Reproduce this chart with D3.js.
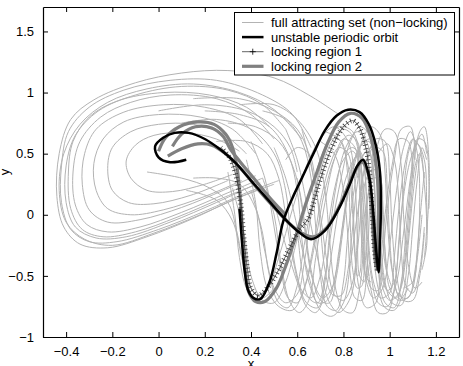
<!DOCTYPE html>
<html>
<head>
<meta charset="utf-8">
<script src="https://cdn.jsdelivr.net/npm/d3@7"></script>
<style>
body { margin: 0; background: #fff; }
svg { display: block; }
text { font-family: "Liberation Sans", Arial, sans-serif; }
</style>
</head>
<body>
<div class="container"></div>
<script>
// values, [x, y]
const leftLoop1 = [[0.78,0.82],[0.65,0.98],[0.5,1.12],[0.3,1.18],[0.1,1.16],[-0.1,1.08],[-0.28,0.94],[-0.38,0.78],[-0.43,0.5],[-0.44,0.15],[-0.41,-0.1],[-0.34,-0.24],[-0.22,-0.27],[-0.05,-0.18],[0.15,-0.03],[0.32,0.12],[0.45,0.22]];
const leftLoop2 = [[0.66,0.55],[0.58,0.82],[0.45,0.98],[0.25,1.1],[0.05,1.1],[-0.15,1.02],[-0.3,0.88],[-0.39,0.68],[-0.42,0.4],[-0.42,0.1],[-0.38,-0.12],[-0.3,-0.22],[-0.18,-0.22],[0.0,-0.12],[0.2,0.03],[0.38,0.18],[0.52,0.28]];
const leftLoop3 = [[0.55,0.7],[0.45,0.9],[0.3,1.02],[0.1,1.05],[-0.1,0.98],[-0.26,0.85],[-0.36,0.65],[-0.4,0.4],[-0.4,0.1],[-0.36,-0.1],[-0.27,-0.19],[-0.14,-0.18],[0.05,-0.06],[0.25,0.1],[0.42,0.25]];
const leftLoop4 = [[0.5,0.62],[0.4,0.82],[0.25,0.95],[0.05,0.98],[-0.12,0.92],[-0.25,0.8],[-0.34,0.6],[-0.37,0.35],[-0.36,0.08],[-0.31,-0.08],[-0.22,-0.14],[-0.08,-0.1],[0.1,0.02],[0.3,0.18],[0.45,0.3]];
const leftLoop5 = [[0.45,0.58],[0.35,0.78],[0.2,0.88],[0.02,0.9],[-0.15,0.84],[-0.27,0.7],[-0.32,0.5],[-0.33,0.25],[-0.3,0.04],[-0.22,-0.06],[-0.08,-0.04],[0.1,0.06],[0.28,0.2],[0.42,0.32]];
const leftLoop6 = [[0.42,0.5],[0.32,0.7],[0.18,0.8],[0.0,0.82],[-0.15,0.76],[-0.24,0.62],[-0.28,0.42],[-0.27,0.2],[-0.22,0.05],[-0.12,0.0],[0.02,0.04],[0.2,0.15],[0.36,0.28]];
const leftLoop7 = [[0.38,0.5],[0.28,0.66],[0.15,0.74],[0.0,0.74],[-0.12,0.68],[-0.2,0.55],[-0.22,0.38],[-0.2,0.2],[-0.13,0.1],[-0.02,0.09],[0.14,0.16],[0.3,0.28]];
const leftLoop8 = [[0.35,0.52],[0.25,0.62],[0.12,0.67],[-0.02,0.65],[-0.1,0.57],[-0.14,0.44],[-0.12,0.3],[-0.05,0.2],[0.06,0.19],[0.2,0.25],[0.32,0.33]];
const leftLoop9 = [[0.62,0.62],[0.5,0.86],[0.35,1.0],[0.15,1.07],[-0.05,1.03],[-0.22,0.92],[-0.34,0.74],[-0.41,0.5],[-0.43,0.2],[-0.4,-0.06],[-0.32,-0.2],[-0.2,-0.25],[-0.02,-0.15],[0.18,0.0],[0.36,0.15],[0.5,0.25]];
const leftLoop10 = [[0.48,0.72],[0.38,0.88],[0.22,0.98],[0.02,1.0],[-0.18,0.93],[-0.3,0.8],[-0.37,0.6],[-0.39,0.35],[-0.38,0.05],[-0.33,-0.12],[-0.24,-0.18],[-0.1,-0.14],[0.08,-0.02],[0.28,0.14],[0.44,0.26]];

const tangle1 = [[0.32,0.22],[0.37,-0.15],[0.4,-0.5],[0.45,-0.7],[0.5,-0.72],[0.55,-0.55],[0.6,-0.2],[0.66,0.2],[0.72,0.55],[0.78,0.72],[0.84,0.68],[0.88,0.35],[0.9,-0.1],[0.92,-0.5],[0.95,-0.72],[0.99,-0.75],[1.03,-0.55],[1.06,-0.15],[1.09,0.3],[1.12,0.62],[1.15,0.6],[1.17,0.25],[1.16,-0.15]];
const tangle2 = [[0.45,0.3],[0.5,0.0],[0.53,-0.4],[0.57,-0.72],[0.61,-0.8],[0.65,-0.7],[0.68,-0.35],[0.72,0.1],[0.76,0.45],[0.8,0.62],[0.85,0.55],[0.87,0.2],[0.88,-0.25],[0.9,-0.55],[0.93,-0.68],[0.97,-0.6],[1.0,-0.25],[1.03,0.2],[1.06,0.55],[1.09,0.68],[1.12,0.5],[1.13,0.1],[1.12,-0.3],[1.1,-0.55],[1.06,-0.6]];
const tangle3 = [[0.5,0.55],[0.55,0.3],[0.6,-0.1],[0.65,-0.5],[0.7,-0.78],[0.75,-0.83],[0.8,-0.72],[0.83,-0.4],[0.86,0.0],[0.89,0.35],[0.93,0.55],[0.97,0.52],[0.99,0.2],[1.0,-0.2],[1.02,-0.55],[1.05,-0.7],[1.09,-0.65],[1.12,-0.35],[1.14,0.0]];
const tangle4 = [[0.38,0.45],[0.42,0.1],[0.44,-0.3],[0.47,-0.6],[0.52,-0.75],[0.58,-0.78],[0.63,-0.6],[0.67,-0.25],[0.7,0.1],[0.74,0.4],[0.78,0.55],[0.82,0.5],[0.84,0.15],[0.85,-0.3],[0.87,-0.62],[0.9,-0.76],[0.94,-0.72],[0.96,-0.4],[0.98,0.0],[1.01,0.4],[1.04,0.62],[1.08,0.6],[1.1,0.3]];
const tangle5 = [[0.55,0.7],[0.6,0.45],[0.65,0.0],[0.7,-0.45],[0.74,-0.72],[0.78,-0.8],[0.83,-0.68],[0.86,-0.3],[0.88,0.1],[0.9,0.3],[0.93,0.38],[0.95,0.2],[0.96,-0.2],[0.98,-0.55],[1.01,-0.72],[1.05,-0.74],[1.08,-0.5],[1.1,-0.1],[1.12,0.3],[1.14,0.55],[1.16,0.45]];
const tangle6 = [[0.6,0.3],[0.63,-0.05],[0.66,-0.45],[0.7,-0.7],[0.74,-0.72],[0.77,-0.5],[0.8,-0.1],[0.83,0.3],[0.87,0.55],[0.91,0.6],[0.94,0.4],[0.95,0.0],[0.96,-0.35],[0.99,-0.62],[1.03,-0.68],[1.06,-0.45],[1.08,-0.05],[1.1,0.35],[1.13,0.68],[1.15,0.72],[1.17,0.45],[1.17,0.05]];
const tangle7 = [[0.7,0.6],[0.76,0.5],[0.8,0.2],[0.82,-0.2],[0.83,-0.5],[0.85,-0.68],[0.88,-0.7],[0.9,-0.5],[0.91,-0.1],[0.92,0.25],[0.95,0.5],[0.99,0.58],[1.02,0.45],[1.04,0.1],[1.05,-0.3],[1.07,-0.58],[1.1,-0.64],[1.13,-0.45],[1.15,-0.1]];
const tangle8 = [[0.4,0.6],[0.46,0.3],[0.5,-0.1],[0.53,-0.45],[0.56,-0.68],[0.6,-0.72],[0.64,-0.55],[0.68,-0.2],[0.72,0.2],[0.77,0.5],[0.82,0.65],[0.86,0.6],[0.88,0.3],[0.89,-0.1],[0.9,-0.45],[0.92,-0.6],[0.95,-0.62],[0.97,-0.35],[0.99,0.05],[1.02,0.45],[1.05,0.7],[1.09,0.72],[1.11,0.45]];
const tangle9 = [[0.62,0.7],[0.66,0.4],[0.7,0.0],[0.73,-0.4],[0.76,-0.65],[0.8,-0.7],[0.84,-0.55],[0.86,-0.2],[0.87,0.15],[0.9,0.45],[0.94,0.62],[0.98,0.6],[1.0,0.3],[1.01,-0.1],[1.03,-0.5],[1.06,-0.7],[1.1,-0.7],[1.13,-0.5],[1.15,-0.15]];
const tangle10 = [[0.3,0.35],[0.33,0.0],[0.35,-0.35],[0.38,-0.6],[0.42,-0.7],[0.47,-0.62],[0.52,-0.35],[0.58,0.05],[0.64,0.4],[0.7,0.62],[0.76,0.72],[0.82,0.6],[0.85,0.25],[0.86,-0.2],[0.87,-0.5],[0.89,-0.55],[0.9,-0.45]];
const tangle11 = [[0.5,0.1],[0.55,-0.25],[0.6,-0.55],[0.64,-0.75],[0.68,-0.8],[0.72,-0.65],[0.75,-0.3],[0.78,0.05],[0.82,0.35],[0.86,0.48],[0.9,0.4],[0.92,0.1],[0.93,-0.3],[0.95,-0.6],[0.98,-0.76],[1.02,-0.78],[1.06,-0.62],[1.08,-0.25],[1.1,0.15],[1.12,0.45]];
const tangle12 = [[0.72,0.68],[0.78,0.62],[0.82,0.4],[0.84,0.0],[0.85,-0.35],[0.86,-0.5],[0.87,-0.48],[0.88,-0.2],[0.9,0.1],[0.93,0.3],[0.96,0.28],[0.97,0.0],[0.98,-0.3],[0.99,-0.5]];
const tangle13 = [[0.2,0.85],[0.35,0.82],[0.48,0.72],[0.56,0.5],[0.6,0.2],[0.62,-0.2],[0.65,-0.55],[0.69,-0.72],[0.73,-0.7],[0.77,-0.45],[0.8,-0.05],[0.84,0.35],[0.88,0.58],[0.92,0.62],[0.95,0.45],[0.97,0.1],[0.98,-0.3],[1.0,-0.6],[1.04,-0.7],[1.08,-0.6]];
const tangle14 = [[0.1,0.75],[0.25,0.78],[0.4,0.7],[0.5,0.5],[0.55,0.2],[0.57,-0.15],[0.6,-0.5],[0.64,-0.72],[0.69,-0.76],[0.72,-0.55],[0.74,-0.15],[0.77,0.25],[0.81,0.55],[0.86,0.68],[0.9,0.6],[0.93,0.3],[0.94,-0.1],[0.96,-0.45],[0.99,-0.62],[1.02,-0.55],[1.04,-0.2],[1.06,0.2],[1.08,0.5],[1.1,0.62]];
const tangle15 = [[0.15,0.3],[0.25,0.3],[0.35,0.25],[0.42,0.05],[0.46,-0.3],[0.5,-0.6],[0.55,-0.72],[0.6,-0.65],[0.63,-0.4],[0.66,0.0],[0.7,0.35],[0.75,0.6],[0.8,0.7],[0.85,0.62],[0.87,0.3],[0.88,-0.15],[0.89,-0.45]];
const tangle16 = [[0.8,0.5],[0.84,0.55],[0.88,0.45],[0.9,0.15],[0.91,-0.25],[0.93,-0.55],[0.96,-0.68],[1.0,-0.64],[1.02,-0.35],[1.04,0.05],[1.07,0.45],[1.1,0.62],[1.13,0.55],[1.15,0.25],[1.16,-0.1],[1.15,-0.35]];
const tangle17 = [[0.55,0.45],[0.6,0.55],[0.65,0.5],[0.68,0.25],[0.7,-0.1],[0.72,-0.45],[0.75,-0.65],[0.79,-0.66],[0.82,-0.45],[0.84,-0.1],[0.86,0.25],[0.89,0.5],[0.93,0.55],[0.96,0.35],[0.97,-0.05],[0.98,-0.4],[1.01,-0.6]];
const tangle18 = [[0.25,0.6],[0.38,0.6],[0.47,0.5],[0.52,0.3],[0.55,0.0],[0.58,-0.35],[0.62,-0.62],[0.66,-0.68],[0.7,-0.5],[0.73,-0.15],[0.76,0.2],[0.8,0.45],[0.84,0.52],[0.87,0.4],[0.88,0.05],[0.89,-0.3],[0.9,-0.52],[0.92,-0.55]];
const tangle19 = [[0.86,0.3],[0.88,0.48],[0.91,0.52],[0.93,0.35],[0.94,0.0],[0.95,-0.35],[0.97,-0.6],[1.0,-0.7],[1.04,-0.64],[1.07,-0.35],[1.09,0.05],[1.11,0.4],[1.13,0.5],[1.15,0.3]];
const tangle20 = [[0.3,0.75],[0.42,0.72],[0.52,0.6],[0.58,0.4],[0.62,0.1],[0.64,-0.25],[0.67,-0.55],[0.71,-0.68],[0.75,-0.6],[0.78,-0.3],[0.81,0.1],[0.84,0.42],[0.87,0.52],[0.89,0.4],[0.9,0.05],[0.9,-0.3],[0.91,-0.5]];
const tangle21 = [[0.45,0.85],[0.55,0.78],[0.62,0.6],[0.66,0.3],[0.68,-0.1],[0.7,-0.5],[0.73,-0.75],[0.77,-0.78],[0.8,-0.55],[0.82,-0.15],[0.85,0.25],[0.88,0.6],[0.92,0.72],[0.96,0.65],[0.98,0.35],[0.99,-0.05],[1.01,-0.45],[1.04,-0.66],[1.08,-0.68],[1.11,-0.45],[1.13,-0.05],[1.15,0.35]];
const tangle22 = [[0.35,0.9],[0.5,0.9],[0.6,0.78],[0.68,0.55],[0.72,0.2],[0.74,-0.2],[0.76,-0.55],[0.8,-0.78],[0.84,-0.8],[0.87,-0.6],[0.89,-0.2],[0.91,0.2],[0.94,0.52],[0.98,0.7],[1.02,0.68],[1.05,0.4],[1.06,0.0],[1.08,-0.4],[1.11,-0.6],[1.14,-0.55]];
const tangle23 = [[0.6,-0.1],[0.62,-0.45],[0.65,-0.68],[0.69,-0.72],[0.72,-0.5],[0.75,-0.1],[0.79,0.3],[0.83,0.6],[0.87,0.72],[0.91,0.66],[0.93,0.35],[0.94,-0.05],[0.95,-0.45],[0.98,-0.72],[1.02,-0.76],[1.05,-0.55],[1.07,-0.15],[1.09,0.25],[1.11,0.55],[1.14,0.66],[1.16,0.5]];
const tangle24 = [[0.4,0.2],[0.45,-0.15],[0.48,-0.5],[0.52,-0.72],[0.56,-0.76],[0.6,-0.58],[0.63,-0.25],[0.67,0.15],[0.71,0.45],[0.75,0.62],[0.79,0.6],[0.82,0.3],[0.83,-0.1],[0.84,-0.45],[0.86,-0.6],[0.88,-0.58],[0.89,-0.3]];
const tangle25 = [[0.9,-0.3],[0.92,-0.62],[0.95,-0.8],[0.99,-0.8],[1.02,-0.6],[1.04,-0.25],[1.06,0.15],[1.09,0.45],[1.12,0.58],[1.15,0.45],[1.16,0.1],[1.16,-0.25],[1.14,-0.45]];
const middleArc1 = [[0.12,0.2],[0.25,0.12],[0.32,-0.05],[0.36,-0.35],[0.4,-0.6],[0.45,-0.68],[0.5,-0.6]];
const middleArc2 = [[-0.05,0.35],[0.1,0.3],[0.22,0.22],[0.3,0.1],[0.34,-0.15],[0.37,-0.45]];
const upperArc1 = [[0.15,0.95],[0.35,0.95],[0.5,0.85],[0.6,0.7],[0.65,0.5],[0.67,0.3]];
const upperArc2 = [[0.0,0.85],[0.2,0.9],[0.38,0.85],[0.5,0.72],[0.57,0.55],[0.6,0.35]];

const periodicOrbit = [[0.35,0.05],[0.36,-0.2],[0.372,-0.45],[0.388,-0.62],[0.41,-0.68],[0.44,-0.69],[0.48,-0.55],[0.51,-0.32],[0.54,-0.05],[0.58,0.14],[0.62,0.3],[0.67,0.5],[0.72,0.69],[0.77,0.81],[0.82,0.86],[0.87,0.84],[0.91,0.74],[0.94,0.57],[0.958,0.35],[0.962,0.05],[0.958,-0.22],[0.952,-0.47],[0.942,-0.3],[0.93,0.0],[0.912,0.3],[0.885,0.45],[0.86,0.4],[0.83,0.26],[0.78,0.05],[0.72,-0.13],[0.66,-0.2],[0.6,-0.13],[0.54,-0.02],[0.47,0.13],[0.4,0.28],[0.33,0.43],[0.27,0.53],[0.2,0.62],[0.13,0.67],[0.07,0.67],[0.02,0.63],[-0.015,0.56],[0.0,0.47],[0.05,0.43],[0.12,0.45]];

const lockingRegion1 = [[0.27,0.55],[0.31,0.46],[0.335,0.32],[0.355,0.1],[0.37,-0.2],[0.385,-0.45],[0.4,-0.6],[0.43,-0.66],[0.47,-0.6],[0.52,-0.45],[0.57,-0.26],[0.61,-0.12],[0.645,-0.04],[0.68,0.16],[0.7,0.29],[0.75,0.55],[0.8,0.72],[0.84,0.77],[0.87,0.71],[0.9,0.52],[0.915,0.3],[0.925,0.0],[0.935,-0.3],[0.945,-0.45]];

const lockingRegion2a = [[0.04,0.48],[0.1,0.54],[0.17,0.58],[0.23,0.57],[0.29,0.5],[0.36,0.37],[0.43,0.21],[0.5,0.06],[0.56,-0.06],[0.62,-0.15],[0.67,-0.18],[0.73,-0.1],[0.79,0.1],[0.84,0.32],[0.88,0.43],[0.905,0.35],[0.92,0.1],[0.93,-0.2],[0.94,-0.42]];
const lockingRegion2b = [[0.0,0.52],[0.03,0.63],[0.09,0.72],[0.17,0.76],[0.24,0.74],[0.29,0.66],[0.32,0.55],[0.34,0.38],[0.355,0.1],[0.365,-0.2],[0.375,-0.45],[0.39,-0.63],[0.42,-0.71],[0.46,-0.71],[0.51,-0.6],[0.55,-0.42],[0.59,-0.2],[0.63,0.05],[0.68,0.32],[0.73,0.58],[0.78,0.76],[0.83,0.83],[0.88,0.79],[0.92,0.62],[0.945,0.35],[0.952,0.0],[0.95,-0.3],[0.945,-0.46]];
const lockingRegion2c = [[0.06,0.56],[0.1,0.66],[0.16,0.72],[0.23,0.71],[0.28,0.64],[0.31,0.54],[0.35,0.44],[0.42,0.28],[0.49,0.12],[0.55,0.0]];

const attractingSet = [leftLoop1, leftLoop2, leftLoop3, leftLoop4, leftLoop5, leftLoop6, leftLoop7, leftLoop8, leftLoop9, leftLoop10,
    tangle1, tangle2, tangle3, tangle4, tangle5, tangle6, tangle7, tangle8, tangle9, tangle10,
    tangle11, tangle12, tangle13, tangle14, tangle15, tangle16, tangle17, tangle18, tangle19, tangle20,
    tangle21, tangle22, tangle23, tangle24, tangle25,
    middleArc1, middleArc2, upperArc1, upperArc2];
const lockingRegion2 = [lockingRegion2a, lockingRegion2b, lockingRegion2c];

const xTicks = [-0.4, -0.2, 0, 0.2, 0.4, 0.6, 0.8, 1, 1.2];
const yTicks = [-1, -0.5, 0, 0.5, 1, 1.5];
const legendLabels = ['full attracting set (non\u2212locking)', 'unstable periodic orbit', 'locking region 1', 'locking region 2'];

const w = 463;
const h = 366;
const margin = { top: 7, right: 4, bottom: 29, left: 43 };

const svg = d3.select('.container')
    .append('svg')
    .attr('width', w)
    .attr('height', h);

const xScale = d3.scaleLinear().domain([-0.5, 1.3]).range([margin.left, w - margin.right]);
const yScale = d3.scaleLinear().domain([-1, 1.7]).range([h - margin.bottom, margin.top]);

svg.append('clipPath').attr('id', 'plot-clip')
    .append('rect')
    .attr('x', margin.left).attr('y', margin.top)
    .attr('width', w - margin.left - margin.right)
    .attr('height', h - margin.top - margin.bottom);

const line = d3.line()
    .x(d => xScale(d[0]))
    .y(d => yScale(d[1]))
    .curve(d3.curveCatmullRom.alpha(0.5));

const plot = svg.append('g').attr('clip-path', 'url(#plot-clip)');

plot.selectAll('.attract')
    .data(attractingSet)
    .enter().append('path')
    .attr('class', 'attract')
    .attr('d', line)
    .attr('fill', 'none')
    .attr('stroke', '#b3b3b3')
    .attr('stroke-width', 1);

plot.selectAll('.lock2')
    .data(lockingRegion2)
    .enter().append('path')
    .attr('class', 'lock2')
    .attr('d', line)
    .attr('fill', 'none')
    .attr('stroke', '#808080')
    .attr('stroke-width', 3.2);

// locking region 1: thin line plus dense "+" ticks (done with a dash pattern)
plot.append('path')
    .attr('d', line(lockingRegion1))
    .attr('fill', 'none')
    .attr('stroke', '#222')
    .attr('stroke-width', 0.7);
plot.append('path')
    .attr('d', line(lockingRegion1))
    .attr('fill', 'none')
    .attr('stroke', '#333')
    .attr('stroke-width', 5)
    .attr('stroke-dasharray', '0.8,3');

plot.append('path')
    .attr('d', line(periodicOrbit))
    .attr('fill', 'none')
    .attr('stroke', '#000')
    .attr('stroke-width', 2.5);

// axes box with inward ticks on all sides
const fmt = d3.format('~g');
const tick = 5;
svg.append('g')
    .attr('transform', `translate(0, ${h - margin.bottom})`)
    .call(d3.axisBottom(xScale).tickValues(xTicks).tickFormat(fmt).tickSizeInner(-tick).tickSizeOuter(0).tickPadding(10));
svg.append('g')
    .attr('transform', `translate(0, ${margin.top})`)
    .call(d3.axisTop(xScale).tickValues(xTicks).tickFormat('').tickSizeInner(-tick).tickSizeOuter(0));
svg.append('g')
    .attr('transform', `translate(${margin.left}, 0)`)
    .call(d3.axisLeft(yScale).tickValues(yTicks).tickFormat(fmt).tickSizeInner(-tick).tickSizeOuter(0).tickPadding(9));
svg.append('g')
    .attr('transform', `translate(${w - margin.right}, 0)`)
    .call(d3.axisRight(yScale).tickValues(yTicks).tickFormat('').tickSizeInner(-tick).tickSizeOuter(0));

svg.selectAll('.domain').attr('stroke', '#000').attr('stroke-width', 1.2);
svg.selectAll('.tick line').attr('stroke', '#000');
svg.selectAll('.tick text').style('font-size', '13px').attr('fill', '#000')
    .style('font-family', '"Liberation Sans", Arial, sans-serif');

svg.append('text')
    .text('x')
    .attr('x', (margin.left + w - margin.right) / 2)
    .attr('y', h + 2)
    .attr('text-anchor', 'middle')
    .style('font-size', '13px');

svg.append('text')
    .text('y')
    .attr('transform', `translate(9, ${(margin.top + h - margin.bottom) / 2}) rotate(-90)`)
    .attr('text-anchor', 'middle')
    .style('font-size', '13px');

// legend
const lg = svg.append('g');
lg.append('rect')
    .attr('x', 234.5).attr('y', 12.5)
    .attr('width', 220).attr('height', 62.5)
    .attr('fill', '#fff')
    .attr('stroke', '#000')
    .attr('stroke-width', 1);

const legendStyles = [
    { stroke: '#b3b3b3', width: 1 },
    { stroke: '#000', width: 2.5 },
    { stroke: '#222', width: 0.7, marker: true },
    { stroke: '#808080', width: 3.2 },
];

legendLabels.forEach((label, i) => {
    const yy = 22.5 + i * 14.6;
    const st = legendStyles[i];
    lg.append('line')
        .attr('x1', 242).attr('x2', 263.5)
        .attr('y1', yy).attr('y2', yy)
        .attr('stroke', st.stroke)
        .attr('stroke-width', st.width);
    if (st.marker) {
        lg.append('path')
            .attr('d', `M${252.75 - 3},${yy}h6M252.75,${yy - 3}v6`)
            .attr('stroke', '#000')
            .attr('stroke-width', 0.8);
    }
    lg.append('text')
        .text(label)
        .attr('x', 271)
        .attr('y', yy)
        .attr('dy', '0.35em')
        .style('font-size', '13px');
});
</script>
</body>
</html>
